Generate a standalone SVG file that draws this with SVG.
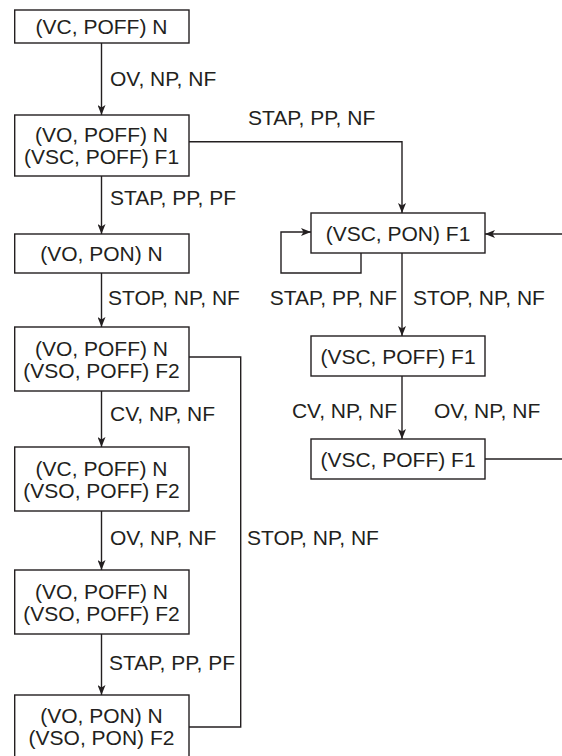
<svg xmlns="http://www.w3.org/2000/svg" width="562" height="756" viewBox="0 0 562 756">
<style>
.box{fill:#fff;stroke:#231f20;stroke-width:1.4}
.t{font-family:"Liberation Sans",Arial,sans-serif;font-size:21px;fill:#231f20}
.c{text-anchor:middle}
.e{text-anchor:end}
.ln{fill:none;stroke:#231f20;stroke-width:1.4}
</style>
<defs>
<marker id="ah" viewBox="0 0 10 8" refX="10" refY="4" markerWidth="10" markerHeight="8" markerUnits="userSpaceOnUse" orient="auto">
<path d="M0,0 L10,4 L0,8 L2.5,4 Z" fill="#231f20"/>
</marker>
</defs>
<rect width="562" height="756" fill="#fff"/>
<g id="connectors">
<path class="ln" d="M101.5,43 V115" marker-end="url(#ah)"/>
<path class="ln" d="M101.5,176 V234" marker-end="url(#ah)"/>
<path class="ln" d="M101.5,273 V327" marker-end="url(#ah)"/>
<path class="ln" d="M101.5,391 V447" marker-end="url(#ah)"/>
<path class="ln" d="M101.5,511 V570" marker-end="url(#ah)"/>
<path class="ln" d="M101.5,634 V695" marker-end="url(#ah)"/>
<path class="ln" d="M189,141.7 H402 V213" marker-end="url(#ah)"/>
<path class="ln" d="M361,253 V273 H281 V232 H311" marker-end="url(#ah)"/>
<path class="ln" d="M563,234 H485" marker-end="url(#ah)"/>
<path class="ln" d="M402,253 V336" marker-end="url(#ah)"/>
<path class="ln" d="M402,376 V439" marker-end="url(#ah)"/>
<path class="ln" d="M485,459 H563"/>
<path class="ln" d="M189,357 H240.7 V727 H189"/>
<text class="t" x="110" y="86">OV, NP, NF</text>
<text class="t" x="248" y="125">STAP, PP, NF</text>
<text class="t" x="110" y="205">STAP, PP, PF</text>
<text class="t" x="108" y="305">STOP, NP, NF</text>
<text class="t e" x="397" y="305">STAP, PP, NF</text>
<text class="t" x="413" y="305">STOP, NP, NF</text>
<text class="t" x="110" y="421">CV, NP, NF</text>
<text class="t e" x="397" y="418">CV, NP, NF</text>
<text class="t" x="434" y="418">OV, NP, NF</text>
<text class="t" x="110" y="545">OV, NP, NF</text>
<text class="t" x="247" y="545">STOP, NP, NF</text>
<text class="t" x="109" y="670">STAP, PP, PF</text>
</g>
<g id="n1"><rect class="box" x="14.7" y="10" width="174.3" height="33"/><text class="t c" x="101.5" y="34">(VC, POFF) N</text></g>
<g id="n2"><rect class="box" x="14.7" y="115" width="174.3" height="61"/><text class="t c" x="101.5" y="142">(VO, POFF) N</text><text class="t c" x="101.5" y="164">(VSC, POFF) F1</text></g>
<g id="n3"><rect class="box" x="14.7" y="234" width="174.3" height="39"/><text class="t c" x="101.5" y="261">(VO, PON) N</text></g>
<g id="n4"><rect class="box" x="14.7" y="327" width="174.3" height="64"/><text class="t c" x="101.5" y="355.5">(VO, POFF) N</text><text class="t c" x="101.5" y="377.5">(VSO, POFF) F2</text></g>
<g id="n5"><rect class="box" x="14.7" y="447" width="174.3" height="64"/><text class="t c" x="101.5" y="475.5">(VC, POFF) N</text><text class="t c" x="101.5" y="497.5">(VSO, POFF) F2</text></g>
<g id="n6"><rect class="box" x="14.7" y="570" width="174.3" height="64"/><text class="t c" x="101.5" y="598.5">(VO, POFF) N</text><text class="t c" x="101.5" y="620.5">(VSO, POFF) F2</text></g>
<g id="n7"><rect class="box" x="14.7" y="695" width="174.3" height="64"/><text class="t c" x="101.5" y="722.5">(VO, PON) N</text><text class="t c" x="101.5" y="744.5">(VSO, PON) F2</text></g>
<g id="n8"><rect class="box" x="311" y="213" width="174" height="40"/><text class="t c" x="398" y="240.5">(VSC, PON) F1</text></g>
<g id="n9"><rect class="box" x="311" y="336" width="174" height="40"/><text class="t c" x="398" y="363.5">(VSC, POFF) F1</text></g>
<g id="n10"><rect class="box" x="311" y="439" width="174" height="40"/><text class="t c" x="398" y="466.5">(VSC, POFF) F1</text></g>
</svg>
